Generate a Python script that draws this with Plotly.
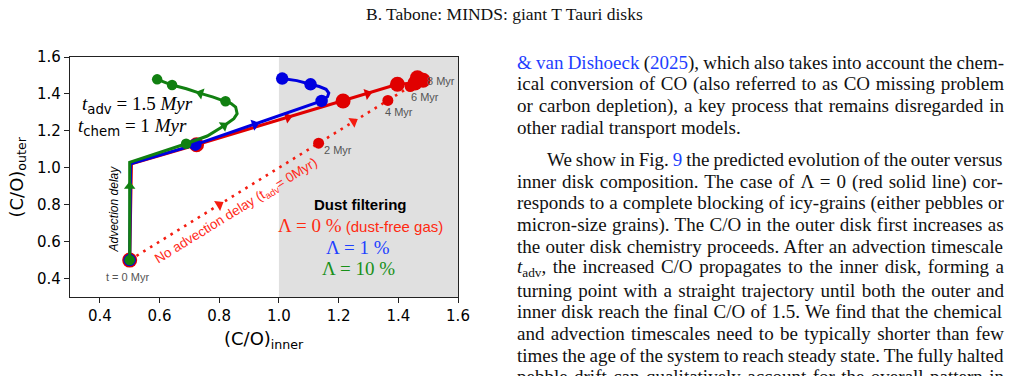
import math
import plotly.graph_objects as go

# ---------------- data ----------------
# Lambda = 0 % (dust-free gas), t_adv = 1.5 Myr
red_path_x = [0.500, 0.506, 0.724, 1.215, 1.397, 1.456, 1.464, 1.483]
red_path_y = [0.500, 1.022, 1.125, 1.362, 1.452, 1.459, 1.488, 1.474]
red_pts_x = [0.500, 0.724, 1.215, 1.397, 1.456, 1.464, 1.483]
red_pts_y = [0.500, 1.125, 1.362, 1.452, 1.459, 1.488, 1.474]
red_arrow_x = [1.030, 1.297]
red_arrow_y = [1.273, 1.401]
red_arrow_dx = [0.673, 0.673]
red_arrow_dy = [0.327, 0.327]

# Lambda = 1 %
blue_path_x = [0.500, 0.503, 0.720, 1.143, 1.163, 1.167, 1.158, 1.135, 1.106, 1.060, 1.011]
blue_path_y = [0.500, 1.022, 1.125, 1.362, 1.385, 1.405, 1.425, 1.440, 1.452, 1.472, 1.483]
blue_pts_x = [0.500, 0.720, 1.143, 1.106, 1.011]
blue_pts_y = [0.500, 1.125, 1.362, 1.452, 1.483]
blue_arrow_x = [0.919]
blue_arrow_y = [1.235]
blue_arrow_dx = [0.423]
blue_arrow_dy = [0.237]

# Lambda = 10 %
green_path_x = [0.500, 0.500, 0.689, 0.760, 0.816, 0.849, 0.860, 0.855, 0.840, 0.821, 0.780, 0.737, 0.690, 0.642, 0.592]
green_path_y = [0.500, 1.030, 1.130, 1.172, 1.228, 1.266, 1.293, 1.329, 1.348, 1.360, 1.383, 1.403, 1.428, 1.448, 1.479]
green_pts_x = [0.500, 0.689, 0.821, 0.642, 0.592]
green_pts_y = [0.500, 1.130, 1.360, 1.448, 1.479]
green_arrow_x = [0.500, 0.816, 0.737]
green_arrow_y = [0.900, 1.228, 1.403]
green_arrow_dx = [0.000, 0.089, -0.179]
green_arrow_dy = [1.000, 0.096, 0.088]

# No advection delay (t_adv = 0 Myr)
nodelay_path_x = [0.500, 1.480]
nodelay_path_y = [0.500, 1.480]
nodelay_pts_x = [1.133, 1.365, 1.440, 1.475]
nodelay_pts_y = [1.133, 1.365, 1.440, 1.475]
nodelay_arrow_x = [0.800, 1.250]
nodelay_arrow_y = [0.800, 1.250]
nodelay_arrow_dx = [1.0, 1.0]
nodelay_arrow_dy = [1.0, 1.0]

time_labels = ["t = 0 Myr", "2 Myr", "4 Myr", "6 Myr", "8 Myr"]

x_ticks = [0.4, 0.6, 0.8, 1.0, 1.2, 1.4, 1.6]
y_ticks = [0.4, 0.6, 0.8, 1.0, 1.2, 1.4, 1.6]
tick_labels = ["0.4", "0.6", "0.8", "1.0", "1.2", "1.4", "1.6"]

X_RANGE = [0.3, 1.6]
Y_RANGE = [0.3, 1.6]
FILTER_START = 1.0

# ---------------- layout geometry ----------------
FIG_W, FIG_H = 1033, 376
M_L, M_T = 70, 57
PLOT_W, PLOT_H = 388, 240
M_R = FIG_W - M_L - PLOT_W
M_B = FIG_H - M_T - PLOT_H
SX = PLOT_W / (X_RANGE[1] - X_RANGE[0])
SY = PLOT_H / (Y_RANGE[1] - Y_RANGE[0])


def px(X):
    return (X - M_L) / PLOT_W


def py(Y):
    return (M_T + PLOT_H - Y) / PLOT_H


def heading(dx, dy):
    return [math.degrees(math.atan2(a * SX, b * SY)) for a, b in zip(dx, dy)]


RED = "#e00000"
BLUE = "#0000e0"
GREEN = "#118011"
DOT_RED = "#f41c10"

SERIF = "Liberation Serif"
SANS = "Liberation Sans"
DEJAVU = "DejaVu Sans"

fig = go.Figure()

# no-advection-delay dotted line
fig.add_trace(go.Scatter(x=nodelay_path_x, y=nodelay_path_y, mode="lines",
                         line=dict(color=DOT_RED, width=2.6, dash="2.6px,5.4px"),
                         hoverinfo="skip"))
fig.add_trace(go.Scatter(x=nodelay_pts_x, y=nodelay_pts_y, mode="markers",
                         marker=dict(color=RED, size=11), hoverinfo="skip"))
fig.add_trace(go.Scatter(x=nodelay_arrow_x, y=nodelay_arrow_y, mode="markers",
                         marker=dict(color=DOT_RED, size=10, symbol="triangle-up",
                                     angle=heading(nodelay_arrow_dx, nodelay_arrow_dy)),
                         hoverinfo="skip"))

for (lx, ly, mx, my, ax, ay, adx, ady, col, msize) in [
    (red_path_x, red_path_y, red_pts_x, red_pts_y, red_arrow_x, red_arrow_y, red_arrow_dx, red_arrow_dy, RED, 15),
    (blue_path_x, blue_path_y, blue_pts_x, blue_pts_y, blue_arrow_x, blue_arrow_y, blue_arrow_dx, blue_arrow_dy, BLUE, 12.5),
    (green_path_x, green_path_y, green_pts_x, green_pts_y, green_arrow_x, green_arrow_y, green_arrow_dx, green_arrow_dy, GREEN, 10.5),
]:
    fig.add_trace(go.Scatter(x=lx, y=ly, mode="lines", line=dict(color=col, width=3),
                             hoverinfo="skip"))
    fig.add_trace(go.Scatter(x=mx, y=my, mode="markers", marker=dict(color=col, size=msize),
                             hoverinfo="skip"))
    fig.add_trace(go.Scatter(x=ax, y=ay, mode="markers",
                             marker=dict(color=col, size=10, symbol="triangle-up",
                                         angle=heading(adx, ady)),
                             hoverinfo="skip"))

axis_common = dict(range=X_RANGE, showgrid=False, zeroline=False, showline=True,
                   linecolor="#222222", linewidth=1.3, mirror=True, ticks="outside",
                   ticklen=5, tickwidth=1.2, tickcolor="#222222",
                   tickfont=dict(family=DEJAVU, size=15, color="#000000"))
fig.update_xaxes(**axis_common, tickvals=x_ticks, ticktext=tick_labels)
fig.update_yaxes(**{**axis_common, "range": Y_RANGE}, tickvals=y_ticks, ticktext=tick_labels)

fig.add_shape(type="rect", xref="x", yref="y", x0=FILTER_START, x1=X_RANGE[1],
              y0=Y_RANGE[0], y1=Y_RANGE[1], fillcolor="#e0e0e0", line=dict(width=0),
              layer="below")

ann = []


def A(text, x, y, size=12, color="#000000", family=SANS, xanchor="center",
      yanchor="middle", angle=0):
    ann.append(dict(text=text, x=x, y=y, xref="paper", yref="paper", showarrow=False,
                    font=dict(family=family, size=size, color=color),
                    xanchor=xanchor, yanchor=yanchor, textangle=angle))


def fam(f):
    return "font-family:'%s'" % f


# axis titles
A("(C/O)<sub>inner</sub>", px(264), py(340), size=18, family=DEJAVU)
A("(C/O)<sub>outer</sub>", px(17.5), py(177), size=18, family=DEJAVU, angle=-90)

# time labels (grey)
time_pos = [(127, 276.7), (337.5, 150), (399.3, 112.3), (425, 97.3), (441.3, 80.7)]
for lab, (X, Y) in zip(time_labels, time_pos):
    A(lab, px(X), py(Y), size=11, color="#555555")


# t_adv / t_chem
def tlabel(sub, val):
    return ('<span style="%s;font-style:italic">t</span>'
            '<sub><span style="%s">%s</span></sub>'
            '<span style="%s"> = %s </span>'
            '<span style="%s;font-style:italic">Myr</span>') % (fam(SERIF), fam(DEJAVU), sub,
                                                                fam(SERIF), val, fam(SERIF))


A(tlabel("adv", "1.5"), px(80), py(105), size=19, family=SERIF, xanchor="left")
A(tlabel("chem", "1"), px(76), py(127), size=19, family=SERIF, xanchor="left")

A("<i>Advection delay</i>", px(113.5), py(209), size=12, angle=-90)
A("No advection delay (t<sub>adv</sub>= 0Myr)", px(236), py(211), size=13.5, color="#ff2a1a",
  angle=-31.7)

# dust filtering legend
A("<b>Dust filtering</b>", px(360), py(204), size=15)
A('<span style="%s;font-size:19px">\u039b = 0 %%</span> (dust-free gas)' % fam(SERIF),
  px(360), py(225), size=15, color="#ff2a10")
A("\u039b = 1 %", px(358), py(247.5), size=19, family=SERIF, color="#2040ff")
A("\u039b = 10 %", px(358.3), py(268.5), size=19, family=SERIF, color="#189018")

# ---------------- page text ----------------
A("B. Tabone: MINDS: giant T Tauri disks", px(504), py(14), size=17.5, family=SERIF,
  color="#111111")

TW = {' ': 250, '!': 333, '%': 833, '&': 778, '(': 333, ')': 333, ',': 250, '-': 333,
      '.': 250, '/': 278, ':': 278, ';': 278, '=': 564, '\u039b': 722}
for ch in "0123456789":
    TW[ch] = 500
TW.update(dict(A=722, B=667, C=667, D=722, E=611, F=556, G=722, H=722, I=333, J=389,
               K=722, L=611, M=889, N=722, O=722, P=556, Q=722, R=667, S=556, T=611,
               U=722, V=722, W=944, X=722, Y=722, Z=611))
TW.update(dict(a=444, b=500, c=444, d=500, e=444, f=333, g=500, h=500, i=278, j=278,
               k=500, l=278, m=778, n=500, o=500, p=500, q=500, r=333, s=389, t=278,
               u=500, v=500, w=722, x=500, y=500, z=444))

FS = 19
TEXT_L, TEXT_R, INDENT = 515, 1002, 545
LINK = "#1f3fff"

# each line: (list of (text, kind), justified, indent)
lines = [
    ([("& van Dishoeck", "link"), (" (", "n"), ("2025", "link"),
      ("), which also takes into account the chem-", "n")], True, False),
    ([("ical conversion of CO (also referred to as CO missing problem", "n")], True, False),
    ([("or carbon depletion), a key process that remains disregarded in", "n")], True, False),
    ([("other radial transport models.", "n")], False, False),
    ([("We show in Fig. ", "n"), ("9", "link"), (" the predicted evolution of the outer versus", "n")], True, True),
    ([("inner disk composition. The case of \u039b = 0 (red solid line) cor-", "n")], True, False),
    ([("responds to a complete blocking of icy-grains (either pebbles or", "n")], True, False),
    ([("micron-size grains). The C/O in the outer disk first increases as", "n")], True, False),
    ([("the outer disk chemistry proceeds. After an advection timescale", "n")], True, False),
    ([("t", "ital"), ("adv", "sub"), (", the increased C/O propagates to the inner disk, forming a", "n")], True, False),
    ([("turning point with a straight trajectory until both the outer and", "n")], True, False),
    ([("inner disk reach the final C/O of 1.5. We find that the chemical", "n")], True, False),
    ([("and advection timescales need to be typically shorter than few", "n")], True, False),
    ([("times the age of the system to reach steady state. The fully halted", "n")], True, False),
    ([("pebble drift can qualitatively account for the overall pattern in", "n")], True, False),
]
line_y = [62.5, 84.2, 106, 127.7, 159.8, 181.6, 203.3, 225, 246.7, 268.4, 290.1, 311.8,
          333.5, 355.2, 376.9]


def seg_w(s, kind):
    w = sum(TW.get(c, 500) for c in s) * FS / 1000.0
    return w * 0.7 if kind == "sub" else w


for (segs, just, ind), Y in zip(lines, line_y):
    left = INDENT if ind else TEXT_L
    natural = sum(seg_w(s, k) for s, k in segs)
    nsp = sum(s.count(" ") for s, k in segs if k not in ("sub",))
    ws = (TEXT_R - left - natural) / nsp if (just and nsp) else 0.0
    parts = []
    for s, k in segs:
        s_html = s.replace("&", "&amp;")
        if k == "sub":
            parts.append("<sub>%s</sub>" % s_html)
        elif k == "ital":
            parts.append('<span style="font-style:italic">%s</span>' % s_html)
        else:
            col = LINK if k == "link" else "#111111"
            parts.append('<span style="color:%s;word-spacing:%.2fpx">%s</span>' % (col, ws, s_html))
    A("".join(parts), px(left), py(Y), size=FS, family=SERIF, color="#111111",
      xanchor="left")

fig.update_layout(width=FIG_W, height=FIG_H,
                  margin=dict(l=M_L, r=M_R, t=M_T, b=M_B, pad=0),
                  plot_bgcolor="white", paper_bgcolor="white", showlegend=False,
                  annotations=ann)

fig.write_html("out.html")
